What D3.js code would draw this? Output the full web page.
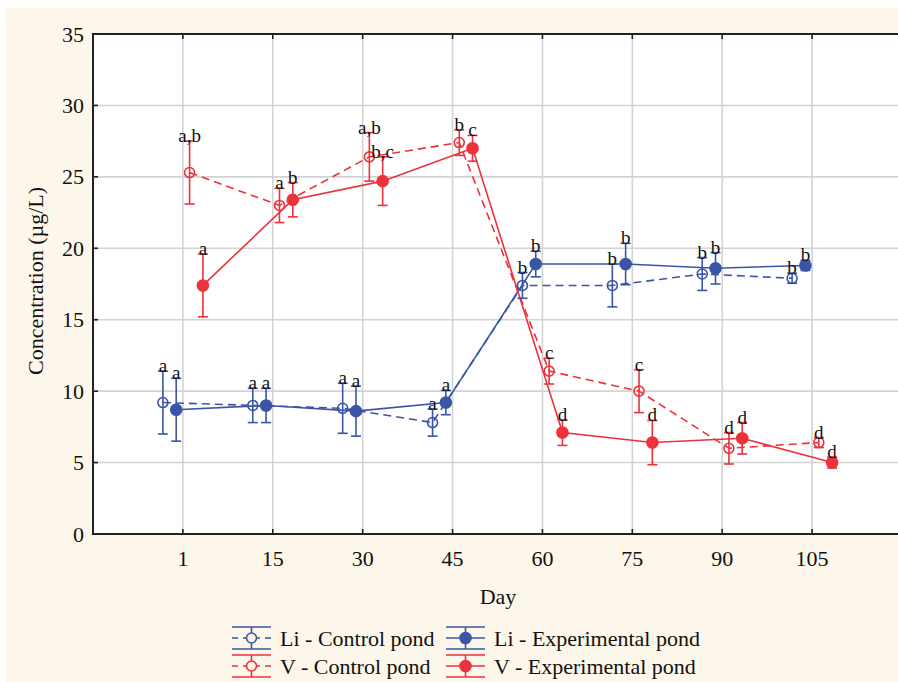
<!DOCTYPE html>
<html>
<head>
<meta charset="utf-8">
<script src="https://cdn.jsdelivr.net/npm/d3@7"></script>
<style>
  html, body { margin: 0; padding: 0; background: #fff; }
  svg { display: block; }
</style>
</head>
<body>
<div id="chart"></div>
<script>
// Days on the x axis
const days = ["1", "15", "30", "45", "60", "75", "90", "105"]
const yTicks = [0, 5, 10, 15, 20, 25, 30, 35]

// Li - control pond
const liControl = [9.2, 9.0, 8.8, 7.8, 17.4, 17.4, 18.2, 17.9]
const liControlErr = [2.2, 1.2, 1.75, 0.95, 0.9, 1.5, 1.15, 0.35]
const liControlLabels = ["a", "a", "a", "a", "b", "b", "b", "b"]

// Li - experimental pond
const liExp = [8.7, 9.0, 8.6, 9.2, 18.9, 18.9, 18.6, 18.8]
const liExpErr = [2.2, 1.2, 1.75, 0.85, 0.9, 1.45, 1.1, 0.35]
const liExpLabels = ["a", "a", "a", "a", "b", "b", "b", "b"]

// V - control pond
const vControl = [25.3, 23.0, 26.4, 27.4, 11.4, 10.0, 6.0, 6.4]
const vControlErr = [2.2, 1.2, 1.7, 0.9, 0.9, 1.5, 1.1, 0.35]
const vControlLabels = ["a,b", "a", "a,b", "b", "c", "c", "d", "d"]

// V - experimental pond
const vExp = [17.4, 23.4, 24.7, 27.0, 7.1, 6.4, 6.7, 5.0]
const vExpErr = [2.2, 1.2, 1.7, 0.9, 0.9, 1.55, 1.1, 0.38]
const vExpLabels = ["a", "b", "b,c", "c", "d", "d", "d", "d"]

const blue = "#3a55a6"
const red = "#ec323c"
const font = "'Liberation Serif', 'Times New Roman', serif"

const series = [
  { name: "Li - Control pond", values: liControl, err: liControlErr, labels: liControlLabels, color: blue, open: true, dx: -20 },
  { name: "Li - Experimental pond", values: liExp, err: liExpErr, labels: liExpLabels, color: blue, open: false, dx: -6.7 },
  { name: "V - Control pond", values: vControl, err: vControlErr, labels: vControlLabels, color: red, open: true, dx: 6.7 },
  { name: "V - Experimental pond", values: vExp, err: vExpErr, labels: vExpLabels, color: red, open: false, dx: 20 }
]

const W = 898, H = 682
const plotLeft = 93, plotTop = 34, plotBottom = 534

const svg = d3.select("#chart").append("svg")
  .attr("width", W).attr("height", H)
  .attr("viewBox", [0, 0, W, H])

// cream background
svg.append("rect").attr("x", 6).attr("y", 8).attr("width", W - 6).attr("height", H - 8)
  .attr("fill", "#fcf7ea")

// Scales (plot runs past the right edge of the picture)
const x = d3.scalePoint().domain(days).range([plotLeft, plotLeft + 809]).padding(1)
const y = d3.scaleLinear().domain([0, 35]).range([plotBottom, plotTop])

svg.append("rect").attr("x", plotLeft).attr("y", plotTop)
  .attr("width", W - plotLeft).attr("height", plotBottom - plotTop)
  .attr("fill", "#fff")

// Grid
const grid = svg.append("g").attr("stroke", "#d3d3d3").attr("stroke-width", 1.6)
grid.selectAll("line.h").data(yTicks.filter(d => d > 0 && d < 35)).join("line")
  .attr("x1", plotLeft).attr("x2", W).attr("y1", d => y(d)).attr("y2", d => y(d))
grid.selectAll("line.v").data(days).join("line")
  .attr("x1", d => x(d)).attr("x2", d => x(d)).attr("y1", plotTop).attr("y2", plotBottom)

// Inward ticks
const ticks = svg.append("g").attr("stroke", "#222").attr("stroke-width", 1.6)
ticks.selectAll("line.l").data(yTicks).join("line")
  .attr("x1", plotLeft).attr("x2", plotLeft + 5).attr("y1", d => y(d)).attr("y2", d => y(d))
ticks.selectAll("line.b").data(days).join("line")
  .attr("x1", d => x(d)).attr("x2", d => x(d)).attr("y1", plotBottom).attr("y2", plotBottom - 5)
ticks.selectAll("line.t").data(days).join("line")
  .attr("x1", d => x(d)).attr("x2", d => x(d)).attr("y1", plotTop).attr("y2", plotTop + 5)

// Frame
svg.append("path")
  .attr("d", `M${W},${plotTop}H${plotLeft}V${plotBottom}H${W}`)
  .attr("stroke", "#222").attr("stroke-width", 2).attr("fill", "none")

// Tick labels
svg.append("g").selectAll("text").data(yTicks).join("text")
  .attr("x", 84).attr("y", d => y(d) + 7.5)
  .attr("text-anchor", "end").attr("font-family", font).attr("font-size", 22).attr("fill", "#111")
  .text(d => d)
svg.append("g").selectAll("text").data(days).join("text")
  .attr("x", d => x(d)).attr("y", 566)
  .attr("text-anchor", "middle").attr("font-family", font).attr("font-size", 22).attr("fill", "#111")
  .text(d => d)

// Axis titles
svg.append("text").attr("x", 498).attr("y", 604)
  .attr("text-anchor", "middle").attr("font-family", font).attr("font-size", 22).attr("fill", "#111")
  .text("Day")
svg.append("text").attr("transform", "translate(43,281) rotate(-90)")
  .attr("text-anchor", "middle").attr("font-family", font).attr("font-size", 22).attr("fill", "#111")
  .text("Concentration (µg/L)")

const px = (s, i) => x(days[i]) + s.dx

// Lines
series.forEach(s => {
  const line = d3.line().x((d, i) => px(s, i)).y(d => y(d))
  svg.append("path").datum(s.values)
    .attr("d", line)
    .attr("fill", "none").attr("stroke", s.color).attr("stroke-width", 1.6)
    .attr("stroke-dasharray", s.open ? "8,5" : null)
})

// Error bars, markers, letters
series.forEach(s => {
  const g = svg.append("g").attr("stroke", s.color).attr("stroke-width", 1.6)
  s.values.forEach((v, i) => {
    const cx = px(s, i)
    const hi = y(v + s.err[i]), lo = y(v - s.err[i])
    g.append("line").attr("x1", cx).attr("x2", cx).attr("y1", hi).attr("y2", lo)
    g.append("line").attr("x1", cx - 5).attr("x2", cx + 5).attr("y1", hi).attr("y2", hi)
    g.append("line").attr("x1", cx - 5).attr("x2", cx + 5).attr("y1", lo).attr("y2", lo)
    g.append("circle").attr("cx", cx).attr("cy", y(v))
      .attr("r", s.open ? 5 : 5.5)
      .attr("fill", s.open ? "none" : s.color)
  })
  svg.append("g").selectAll("text").data(s.values).join("text")
    .attr("x", (d, i) => px(s, i))
    .attr("y", (d, i) => y(d + s.err[i]) + 1)
    .attr("text-anchor", "middle").attr("font-family", font).attr("font-size", 19).attr("fill", "#111")
    .text((d, i) => s.labels[i])
})

// Legend
const legendPos = [[232, 638], [446, 638], [232, 666], [446, 666]]
series.forEach((s, k) => {
  const [lx, ly] = legendPos[k]
  const g = svg.append("g").attr("stroke", s.color).attr("stroke-width", 1.6)
  g.append("line").attr("x1", lx).attr("x2", lx + 39).attr("y1", ly - 11).attr("y2", ly - 11)
  g.append("line").attr("x1", lx).attr("x2", lx + 39).attr("y1", ly + 11).attr("y2", ly + 11)
  g.append("line").attr("x1", lx).attr("x2", lx + 39).attr("y1", ly).attr("y2", ly)
    .attr("stroke-dasharray", s.open ? "6,5" : null)
  g.append("line").attr("x1", lx + 19.5).attr("x2", lx + 19.5).attr("y1", ly - 11).attr("y2", ly + 11)
  g.append("circle").attr("cx", lx + 19.5).attr("cy", ly).attr("r", s.open ? 5 : 5.5)
    .attr("fill", s.open ? "#fcf7ea" : s.color)
  svg.append("text").attr("x", lx + 48).attr("y", ly + 7.5)
    .attr("font-family", font).attr("font-size", 22).attr("fill", "#111")
    .text(s.name)
})
</script>
</body>
</html>
